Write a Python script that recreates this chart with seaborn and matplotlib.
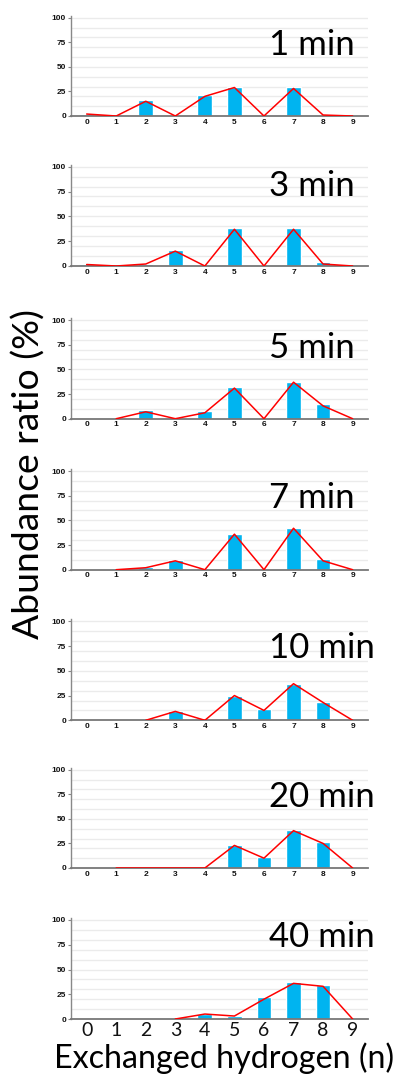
import numpy as np
import pandas as pd
import matplotlib
matplotlib.use("Agg")
import matplotlib.pyplot as plt
import seaborn as sns

# ---- data ----
positions = [0, 1, 2, 3, 4, 5, 6, 7, 8, 9]
tick_labels = ["0", "1", "2", "3", "4", "5", "6", "7", "8", "9"]
times = ["1 min", "3 min", "5 min", "7 min", "10 min", "20 min", "40 min"]
nan = np.nan

bars_1 = [2.5, 0, 16, 0, 21, 29, 0, 29.5, 1.5, 0]
bars_3 = [2, 0, 2.5, 16, 1.5, 38, 0, 38, 4, 0]
bars_5 = [0, 0, 8.5, 0, 8, 32, 0, 37, 15, 0]
bars_7 = [1, 0, 2.5, 9.5, 0, 36, 0, 42, 10.5, 0]
bars_10 = [0, 0, 0, 9, 0, 25, 11, 37, 18.5, 0]
bars_20 = [0, 0.8, 1, 0, 0, 23, 11, 38.5, 26.5, 0]
bars_40 = [0, 0, 0, 0, 5, 3, 22.5, 37.5, 34, 0]

line_1 = [2, 0, 15, 0, 20, 29, 0, 28, 1, 0]
line_3 = [1.5, 0, 2, 15, 0, 37, 0, 37, 2, 0]
line_5 = [nan, 0, 7, 0, 6, 31, 0, 37, 13, 0]
line_7 = [nan, 0, 2, 9, 0, 36, 0, 42, 9, 0]
line_10 = [nan, nan, 0, 9, 0, 25, 10, 37, 18, 0]
line_20 = [nan, 0, 0, 0, 0, 23, 10, 38, 25, 0]
line_40 = [nan, nan, nan, 0, 5, 3, 20, 36, 33, 0]

y_ticks = [0, 25, 50, 75, 100]

bars_all = [bars_1, bars_3, bars_5, bars_7, bars_10, bars_20, bars_40]
lines_all = [line_1, line_3, line_5, line_7, line_10, line_20, line_40]

# ---- layout (pixels) ----
W, H = 395, 1081
y0_px = [116, 266, 418.7, 569.7, 720.3, 868, 1019]
y100_px = [17.7, 166.7, 320, 471, 621.3, 769.7, 920]
title_base_px = [55, 195.7, 357.7, 508.3, 658.3, 806.7, 946.7]
left_px, right_px = 71, 368
YTOP = 102

sns.set_theme(style="white")
big_font = ["Lato", "DejaVu Sans"]
small_font = ["Liberation Sans", "DejaVu Sans"]

fig = plt.figure(figsize=(W / 100, H / 100), dpi=100)
bar_color = "#00B4F0"
line_color = "#FF0000"

for i in range(7):
    unit = (y0_px[i] - y100_px[i]) / 100.0
    h_px = unit * YTOP
    ax = fig.add_axes([left_px / W, 1 - y0_px[i] / H, (right_px - left_px) / W, h_px / H])
    df = pd.DataFrame({"n": positions, "ratio": bars_all[i], "fit": lines_all[i]})
    for g in range(10, 101, 10):
        ax.axhline(g, color="#ebebeb", lw=1.0, zorder=0)
    sns.barplot(data=df, x="n", y="ratio", color=bar_color, width=0.5,
                saturation=1, ax=ax, zorder=2, order=positions)
    dl = df.dropna(subset=["fit"])
    sns.lineplot(data=dl, x="n", y="fit", color=line_color, lw=1.1,
                 sort=False, estimator=None, ax=ax, zorder=3)
    ax.set_xlim(-0.53, 9.52)
    ax.set_ylim(0, YTOP)
    ax.set_yticks(y_ticks)
    ax.set_yticklabels([str(t) for t in y_ticks], fontsize=6, fontweight="bold",
                       family=small_font, color="#111111")
    ax.set_xticks(positions)
    ax.set_xlabel("")
    ax.set_ylabel("")
    for s in ["top", "right"]:
        ax.spines[s].set_visible(False)
    ax.spines["left"].set_color("#888888")
    ax.spines["left"].set_linewidth(1.0)
    ax.spines["bottom"].set_color("#777777")
    ax.spines["bottom"].set_linewidth(1.3)
    ax.tick_params(axis="y", length=2.5, width=0.8, color="#888888", pad=1, left=True)
    if i < 6:
        ax.set_xticklabels(tick_labels, fontsize=6, fontweight="bold",
                           family=small_font, color="#111111")
        ax.tick_params(axis="x", length=0, pad=2)
    else:
        ax.set_xticklabels(tick_labels, fontsize=14, family=big_font, color="#111111")
        ax.tick_params(axis="x", length=0, pad=2)
    ax.patch.set_alpha(0)
    fig.text(269 / W, 1 - title_base_px[i] / H, times[i], fontsize=25,
             family=big_font, color="black", ha="left", va="baseline")

fig.text(29 / W, 1 - 474 / H, "Abundance ratio (%)", rotation=90, fontsize=26.8,
         family=big_font, color="black", ha="center", va="center")
fig.text(224 / W, 1 - 1068 / H, "Exchanged hydrogen (n)", fontsize=23.2,
         family=big_font, color="black", ha="center", va="baseline")

fig.savefig("out.png", dpi=100)
